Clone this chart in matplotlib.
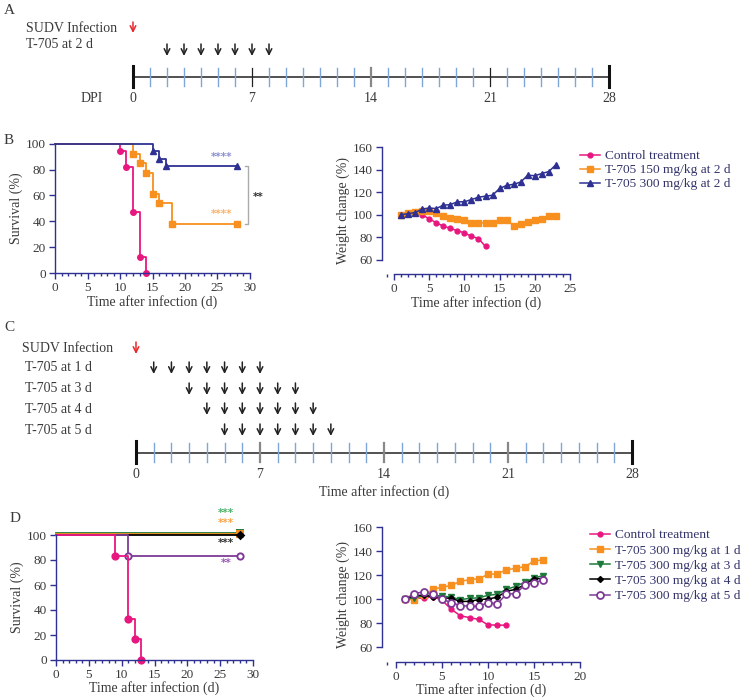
import numpy as np
import matplotlib.pyplot as plt
from matplotlib.lines import Line2D
from matplotlib.ticker import MultipleLocator
import matplotlib.transforms as mtransforms

plt.rcParams['font.family'] = ['Liberation Serif', 'DejaVu Serif']

# ---------------- data ----------------
# panel A / C dosing schedules (days post infection)
infection_day = 0
dose_days_A = [2, 3, 4, 5, 6, 7, 8]
row_labels_C = ["T-705 at 1 d", "T-705 at 3 d", "T-705 at 4 d", "T-705 at 5 d"]
dose_days_C = [[1, 2, 3, 4, 5, 6, 7],
               [3, 4, 5, 6, 7, 8, 9],
               [4, 5, 6, 7, 8, 9, 10],
               [5, 6, 7, 8, 9, 10, 11]]
timeline_labels = [0, 7, 14, 21, 28]

# panel B survival (step curves: time of change, survival after change)
survB_ctrl_t = [0, 10, 11, 12, 13, 14]
survB_ctrl_s = [100, 94, 82, 47, 12, 0]
survB_150_t = [0, 12, 13, 14, 15, 16, 18, 28]
survB_150_s = [100, 92, 85, 77, 61, 54, 38, 38]
survB_300_t = [0, 15, 16, 17, 28]
survB_300_s = [100, 94, 88, 83, 83]

# panel B weight change
wB_ctrl_d = list(range(1, 14))
wB_ctrl = [100, 101, 102, 100, 96.5, 93, 90, 88, 86, 84, 81, 79, 72]
wB_150_d = list(range(1, 24))
wB_150 = [100, 101.5, 102.5, 103.5, 103, 102, 99, 97.5, 96, 95, 93, 93, 92.8,
          92.8, 95.3, 95.3, 90.5, 91.5, 93.5, 95.3, 96.3, 98.5, 99.2]
wB_300_d = list(range(1, 24))
wB_300 = [100, 101, 102, 105, 106, 105.5, 108.5, 109, 111.5, 111.5, 113.5, 115.5,
          116.5, 117.3, 123.3, 126, 127, 129, 135, 134.6, 136.5, 138.3, 144.3]
legend_B = ["Control treatment", "T-705 150 mg/kg at 2 d", "T-705 300 mg/kg at 2 d"]

# panel D survival
survD_ctrl_t = [0, 9, 11, 12, 13]
survD_ctrl_s = [100, 83, 33, 17, 0]
survD_5d_t = [0, 11, 28]
survD_5d_s = [100, 83, 83]
survD_1d_t = [0, 28]
survD_1d_s = [100, 100]
survD_3d_t = [0, 28]
survD_3d_s = [100, 100]
survD_4d_t = [0, 28]
survD_4d_s = [100, 100]

# panel D weight change
wD_ctrl_d = list(range(1, 13))
wD_ctrl = [100, 101, 100.5, 102, 99, 91.5, 86, 84.5, 83, 78.5, 78.2, 78.2]
wD_d = list(range(1, 17))
wD_1d = [100, 99.3, 103, 108, 109.8, 111.3, 114.8, 116, 117, 120.5, 121, 124.3,
         125.5, 127, 131.5, 132.8]
wD_3d = [100, 101, 103, 103, 102.5, 101.5, 99.5, 100.5, 101, 103, 104, 108,
         110.5, 114, 117.5, 119.5]
wD_4d = [100, 103, 103, 102, 101, 100.5, 98, 98, 99.5, 100, 101.5, 106.5,
         108, 112, 117, 117]
wD_5d = [100, 104.5, 106, 104, 100, 97, 94.5, 94, 94, 97, 96, 104, 104.5,
         111.5, 113.5, 116]
legend_D = ["Control treatment", "T-705 300 mg/kg at 1 d", "T-705 300 mg/kg at 3 d",
            "T-705 300 mg/kg at 4 d", "T-705 300 mg/kg at 5 d"]

# ---------------- style ----------------
pink = '#E8177F'
orange = '#F7901E'
navy = '#2E3192'
green = '#1E7B3C'
purple = '#7E3A96'
txt = '#3a3a3a'
leg_txt = '#33336b'
tick_blue = '#7ea6d8'

W, H = 744, 698
fig = plt.figure(figsize=(W / 100, H / 100), dpi=100)


def box(left, top, right, bottom):
    return [left / W, 1 - bottom / H, (right - left) / W, (bottom - top) / H]


def ptext(x, y, s, **kw):
    # text placed at pixel position of the figure
    kw.setdefault('color', txt)
    fig.text(x / W, 1 - y / H, s, **kw)


def timeline(left, right, top, bottom, line_y, t_top, t_bot, grey_days, black_days, label_y):
    ax = fig.add_axes(box(left, top, right, bottom))
    ax.set_xlim(0, 28)
    ax.set_ylim(bottom, top)
    ax.axis('off')
    ax.plot([0, 28], [line_y, line_y], color='#222', lw=1.1, clip_on=False)
    for d in range(29):
        if d in (0, 28):
            ax.plot([d, d], [t_top - 2, t_bot + 1], color='#111', lw=2.2, clip_on=False)
        elif d in grey_days:
            ax.plot([d, d], [t_top, t_bot], color='#888', lw=1.6, clip_on=False)
        elif d in black_days:
            ax.plot([d, d], [t_top, t_bot], color='#222', lw=0.9, clip_on=False)
        else:
            ax.plot([d, d], [t_top, t_bot], color=tick_blue, lw=1.0, clip_on=False)
    for d in timeline_labels:
        ax.text(d, label_y, str(d), ha='center', va='center', fontsize=10, color=txt)
    return ax


def arrow(ax, d, y0, y1, color='#222'):
    ax.annotate('', xy=(d, y1), xytext=(d, y0), annotation_clip=False,
                arrowprops=dict(arrowstyle='->', color=color, lw=1.1,
                                mutation_scale=10, shrinkA=0, shrinkB=0))


def style_axes(ax):
    for s in ('top', 'right'):
        ax.spines[s].set_visible(False)
    for s in ('left', 'bottom'):
        ax.spines[s].set_color(navy)
        ax.spines[s].set_linewidth(1.0)
    ax.tick_params(which='both', direction='out', colors=navy, labelcolor=txt, labelsize=9.5)
    ax.tick_params(which='major', length=4, width=1, pad=2.5)
    ax.tick_params(which='minor', length=2.5, width=1)


def stars(ax, x, y, s, color):
    ax.text(x, y, s, color=color, fontsize=7.5, ha='center', va='center',
            fontweight='bold', family='DejaVu Sans')


# ---------------- panel A ----------------
ptext(4, 10, "A", fontsize=11, va='center')
ptext(26, 28, "SUDV Infection", fontsize=10, va='center')
ptext(26, 44, "T-705 at 2 d", fontsize=10, va='center')
ptext(92, 98, "DPI", fontsize=10, va='center', ha='center')
axA = timeline(133, 609, 15, 105, 77, 68, 86, grey_days=[14], black_days=[7, 21], label_y=98)
arrow(axA, infection_day, 22, 33, color='#e8282a')
for d in dose_days_A:
    arrow(axA, d, 44, 56)

# ---------------- panel B survival ----------------
ptext(4, 141, "B", fontsize=11, va='center')
axB1 = fig.add_axes(box(55, 143.7, 250, 273))
for t, s, c, m in [(survB_ctrl_t, survB_ctrl_s, pink, 'o'),
                   (survB_150_t, survB_150_s, orange, 's'),
                   (survB_300_t, survB_300_s, navy, '^')]:
    axB1.plot(t, s, drawstyle='steps-post', color=c, lw=1.3, clip_on=False)
    axB1.plot(t[1:], s[1:], ls='none', marker=m, color=c, ms=4, clip_on=False)
axB1.set_xlim(0, 30)
axB1.set_ylim(0, 100)
axB1.xaxis.set_major_locator(MultipleLocator(5))
axB1.xaxis.set_minor_locator(MultipleLocator(1))
axB1.yaxis.set_major_locator(MultipleLocator(20))
style_axes(axB1)
axB1.set_xlabel("Time after infection (d)", fontsize=10, color=txt, labelpad=1)
axB1.set_ylabel("Survival (%)", fontsize=10, color=txt, labelpad=2)
stars(axB1, 25.7, 90, "****", '#8b8fd0')
stars(axB1, 25.7, 46, "****", '#f9b26b')
axB1.plot([29.3, 29.7, 29.7, 29.3], [83, 83, 38, 38], color='#aaaaaa', lw=1, clip_on=False)
stars(axB1, 31.2, 59, "**", '#333333')

# ---------------- panel B weight ----------------
axB2 = fig.add_axes(box(382, 147, 570, 274))
axB2.plot(wB_ctrl_d, wB_ctrl, color=pink, marker='o', ms=3.5, lw=1.1, label=legend_B[0])
axB2.plot(wB_150_d, wB_150, color=orange, marker='s', ms=3.8, lw=1.1, label=legend_B[1])
axB2.plot(wB_300_d, wB_300, color=navy, marker='^', ms=3.8, lw=1.1, label=legend_B[2])
axB2.set_xlim(-1.7, 25)
axB2.set_ylim(47.6, 160)
axB2.spines['left'].set_bounds(60, 160)
axB2.spines['bottom'].set_bounds(0, 25)
axB2.xaxis.set_major_locator(MultipleLocator(5))
axB2.xaxis.set_minor_locator(MultipleLocator(1))
axB2.set_yticks(range(60, 161, 20))
style_axes(axB2)
axB2.set_xlabel("Time after infection (d)", fontsize=10, color=txt, labelpad=1)
axB2.set_ylabel("Weight change (%)", fontsize=10, color=txt, labelpad=2)
legB = axB2.legend(loc='upper left', bbox_to_anchor=(580 / W, 1 - 150 / H),
                   bbox_transform=fig.transFigure, frameon=False, fontsize=9.6,
                   handlelength=1.5, handletextpad=0.35, labelspacing=0.12,
                   borderpad=0, borderaxespad=0)
for t in legB.get_texts():
    t.set_color(leg_txt)

# ---------------- panel C ----------------
ptext(4, 328, "C", fontsize=11, va='center')
ptext(22, 348, "SUDV Infection", fontsize=10, va='center')
row_y = [368, 389, 409, 430]
for lab, y in zip(row_labels_C, row_y):
    ptext(25, y, lab, fontsize=10, va='center')
axC = timeline(136, 632, 335, 500, 453, 443, 462, grey_days=[7, 14, 21], black_days=[], label_y=474)
arrow(axC, infection_day, 342, 354, color='#e8282a')
for days, y in zip(dose_days_C, row_y):
    for d in days:
        arrow(axC, d, y - 6, y + 6)
ptext(384, 492, "Time after infection (d)", fontsize=10, ha='center', va='center')

# ---------------- panel D survival ----------------
ptext(10, 518, "D", fontsize=11, va='center')
axD1 = fig.add_axes(box(56, 535, 253, 660))
off = lambda dy: mtransforms.offset_copy(axD1.transData, fig=fig, x=0, y=dy, units='points')
for t, s, c, m, mfc, dy in [(survD_3d_t, survD_3d_s, green, 's', green, 1.2),
                            (survD_1d_t, survD_1d_s, orange, 's', orange, 0.6),
                            (survD_4d_t, survD_4d_s, 'black', 'D', 'black', 0.0),
                            (survD_5d_t, survD_5d_s, purple, 'o', 'white', 0.0),
                            (survD_ctrl_t, survD_ctrl_s, pink, 'o', pink, 0.0)]:
    axD1.plot(t, s, drawstyle='steps-post', color=c, lw=1.3, clip_on=False, transform=off(dy))
    axD1.plot(t[1:], s[1:], ls='none', marker=m, color=c, mfc=mfc, mew=1.4,
              ms=4.5 if m != 'D' else 3.5, clip_on=False, transform=off(dy))
axD1.set_xlim(0, 30)
axD1.set_ylim(0, 100)
axD1.xaxis.set_major_locator(MultipleLocator(5))
axD1.xaxis.set_minor_locator(MultipleLocator(1))
axD1.yaxis.set_major_locator(MultipleLocator(20))
style_axes(axD1)
axD1.set_xlabel("Time after infection (d)", fontsize=10, color=txt, labelpad=0)
axD1.set_ylabel("Survival (%)", fontsize=10, color=txt, labelpad=2)
stars(axD1, 25.9, 117.5, "***", '#4caf6a')
stars(axD1, 25.9, 109.5, "***", '#f9a54a')
stars(axD1, 25.9, 93.5, "***", '#333333')
stars(axD1, 25.9, 77.5, "**", '#9b59b6')

# ---------------- panel D weight ----------------
axD2 = fig.add_axes(box(382, 527, 580, 662))
axD2.plot(wD_ctrl_d, wD_ctrl, color=pink, marker='o', ms=3.5, lw=1.1, label=legend_D[0])
axD2.plot(wD_d, wD_1d, color=orange, marker='s', ms=3.8, lw=1.1, label=legend_D[1])
axD2.plot(wD_d, wD_3d, color=green, marker='v', ms=3.8, lw=1.1, label=legend_D[2])
axD2.plot(wD_d, wD_4d, color='black', marker='D', ms=3, lw=1.1, label=legend_D[3])
axD2.plot(wD_d, wD_5d, color=purple, marker='o', mfc='white', mew=1.3, ms=5, lw=1.1, label=legend_D[4])
axD2.set_xlim(-1.52, 20)
axD2.set_ylim(47.5, 160)
axD2.spines['left'].set_bounds(60, 160)
axD2.spines['bottom'].set_bounds(0, 20)
axD2.xaxis.set_major_locator(MultipleLocator(5))
axD2.xaxis.set_minor_locator(MultipleLocator(1))
axD2.set_yticks(range(60, 161, 20))
style_axes(axD2)
axD2.set_xlabel("Time after infection (d)", fontsize=10, color=txt, labelpad=0)
axD2.set_ylabel("Weight change (%)", fontsize=10, color=txt, labelpad=2)
legD = axD2.legend(loc='upper left', bbox_to_anchor=(590 / W, 1 - 529 / H),
                   bbox_transform=fig.transFigure, frameon=False, fontsize=9.6,
                   handlelength=1.5, handletextpad=0.35, labelspacing=0.22,
                   borderpad=0, borderaxespad=0)
for t in legD.get_texts():
    t.set_color(leg_txt)

fig.savefig("out.png", dpi=100, facecolor='white')
